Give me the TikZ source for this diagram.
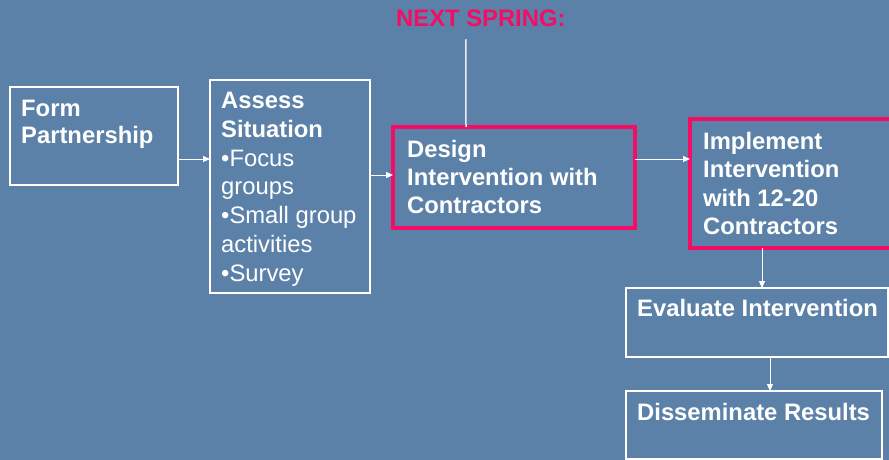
\documentclass[tikz,border=0pt]{standalone}
\usepackage{fontspec}
\setmainfont{Liberation Sans}
\usetikzlibrary{arrows.meta}
\definecolor{bgblue}{RGB}{92,129,169}
\definecolor{hotpink}{RGB}{245,12,100}
\tikzset{
  wbox/.style={draw=white, line width=2pt, rectangle, inner sep=0pt, outer sep=0pt, anchor=north west},
  pbox/.style={draw=hotpink, line width=4pt, rectangle, inner sep=0pt, outer sep=0pt, anchor=north west},
  txt/.style={text=white, inner sep=0pt, anchor=north west, align=left, font=\fontsize{23.8}{28.3}\selectfont\bfseries},
  arr/.style={draw=white, line width=1pt, -{Triangle[length=7pt,width=6pt]}},
}
\begin{document}
\begin{tikzpicture}[x=1pt,y=-1pt]
\fill[bgblue] (0,0) rectangle (889,460);
\useasboundingbox (0,0) rectangle (889,460);
\clip (0,0) rectangle (889,460);
% boxes
\node[wbox, minimum width=168pt, minimum height=98pt] (form) at (10,87) {};
\node[wbox, minimum width=160pt, minimum height=213pt] (assess) at (210,80) {};
\node[pbox, minimum width=242pt, minimum height=101pt] (design) at (393,127) {};
\node[pbox, minimum width=203pt, minimum height=129pt] (impl) at (690,119) {};
\node[wbox, minimum width=262pt, minimum height=69pt] (eval) at (626,288) {};
\node[wbox, minimum width=256pt, minimum height=68pt] (diss) at (626,391) {};
% texts
\node[txt, font=\fontsize{23.8}{27.3}\selectfont\bfseries] (formt) at (21,100) {Form\\Partnership};
\node[txt, font=\fontsize{23.8}{28.8}\selectfont] (assesst) at (221,92) {\textbf{Assess}\\\textbf{Situation}\\•Focus\\groups\\•Small group\\activities\\•Survey};
\node[txt, font=\fontsize{23.8}{28}\selectfont\bfseries] (designt) at (407,140) {Design\\Intervention with\\Contractors};
\node[txt] (implt) at (703,132) {Implement\\Intervention\\with 12-20\\Contractors};
\node[txt] (evalt) at (637,299) {Evaluate Intervention};
\node[txt] (disst) at (637,403) {Disseminate Results};
\node[txt, text=hotpink] (spring) at (396,10) {NEXT SPRING:};
% connectors
\draw[arr] ([yshift=-23pt]form.east) -- ([yshift=27.5pt]assess.west);
\draw[arr] ([yshift=11.5pt]assess.east) -- ([yshift=2.5pt]design.west);
\draw[arr] ([yshift=18.5pt]design.east) -- ([yshift=24.5pt]impl.west);
\draw[arr] ([xshift=-29.5pt]impl.south) -- ([xshift=5pt]eval.north);
\draw[arr] ([xshift=13pt]eval.south) -- ([xshift=16pt]diss.north);
\draw[draw=white!85!bgblue, line width=1.5pt] ([xshift=-15pt,yshift=-12pt]spring.south) -- ([xshift=-48pt]design.north);
\end{tikzpicture}
\end{document}
